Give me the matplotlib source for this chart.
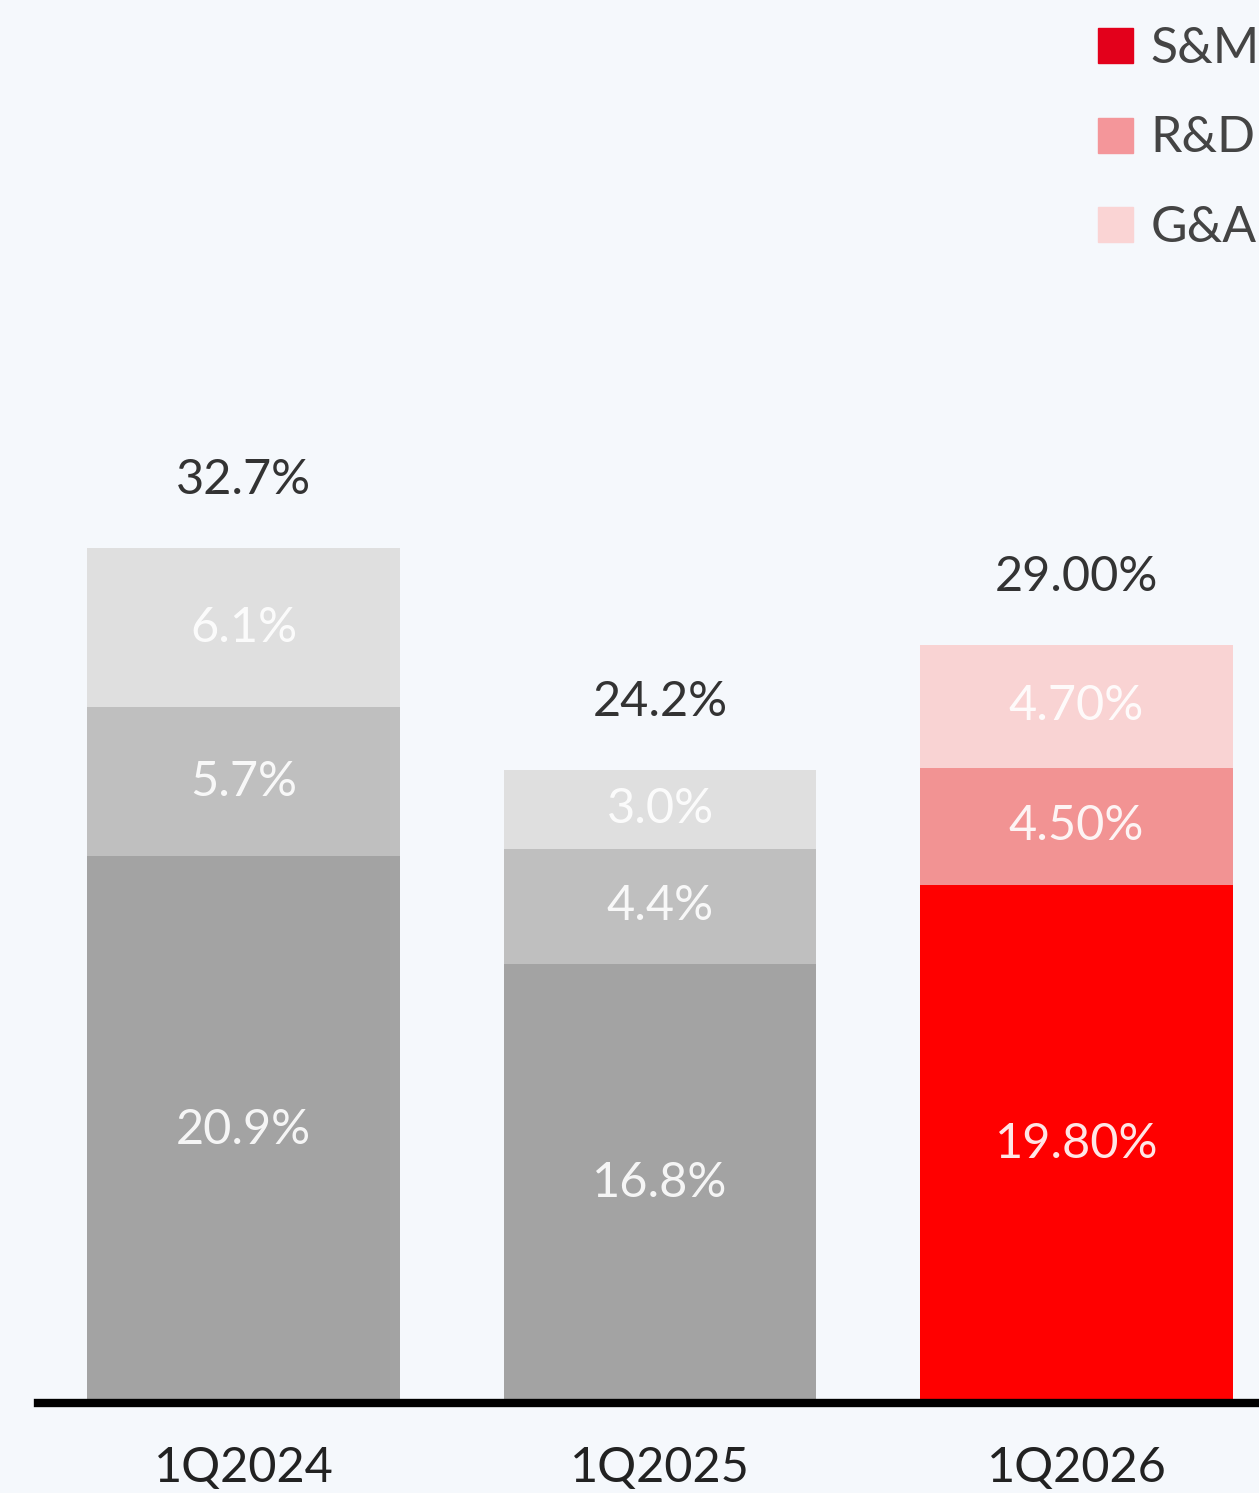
import matplotlib.pyplot as plt
from matplotlib.patches import Patch

# Data
quarters = ['1Q2024', '1Q2025', '1Q2026']
sm = [20.9, 16.8, 19.8]
rd = [5.7, 4.4, 4.5]
ga = [6.1, 3.0, 4.7]
totals = [32.7, 24.2, 29.0]
sm_labels = ['20.9%', '16.8%', '19.80%']
rd_labels = ['5.7%', '4.4%', '4.50%']
ga_labels = ['6.1%', '3.0%', '4.70%']
total_labels = ['32.7%', '24.2%', '29.00%']
legend_names = ['S&M', 'R&D', 'G&A']

# Colours: grey for past quarters, red for the current one
sm_colors = ['#a3a3a3', '#a3a3a3', '#ff0000']
rd_colors = ['#bfbfbf', '#bfbfbf', '#f29393']
ga_colors = ['#dfdfdf', '#dfdfdf', '#f9d3d3']
legend_colors = ['#e3001b', '#f4969a', '#fad4d4']
bg = '#f5f8fc'

plt.rcParams['font.family'] = ['Lato', 'DejaVu Sans']

W, H = 1259, 1493
fig = plt.figure(figsize=(W / 100, H / 100), dpi=100, facecolor=bg)
base_px = 1403
ax = fig.add_axes([38 / W, (H - base_px) / H, 1 - 38 / W, base_px / H])
ax.set_facecolor(bg)

x = list(range(len(quarters)))
width = 0.75
b1 = ax.bar(x, sm, width, color=sm_colors)
b2 = ax.bar(x, rd, width, bottom=sm, color=rd_colors)
bottom3 = [a + b for a, b in zip(sm, rd)]
b3 = ax.bar(x, ga, width, bottom=bottom3, color=ga_colors)

fs = 35
for bars, labels in [(b1, sm_labels), (b2, rd_labels), (b3, ga_labels)]:
    ax.bar_label(bars, labels=labels, label_type='center', color='white',
                 alpha=0.9, fontsize=fs)

for i in x:
    ax.annotate(total_labels[i], (i, totals[i]), xytext=(0, 49),
                textcoords='offset points', ha='center', va='center',
                fontsize=fs, color='#333333')

ax.set_xlim(-(243.5 - 38) / 416.5, (W - 243.5) / 416.5)
ax.set_ylim(0, base_px / 26.15)

for s in ['top', 'right', 'left']:
    ax.spines[s].set_visible(False)
ax.spines['bottom'].set_linewidth(6)
ax.spines['bottom'].set_color('black')
ax.set_yticks([])
ax.set_xticks(x)
ax.set_xticklabels(quarters, fontsize=fs, color='#222222')
ax.tick_params(axis='x', length=0, pad=31)

handles = [Patch(color=c) for c in legend_colors]
fig.legend(handles, legend_names, loc='upper left',
           bbox_to_anchor=(1098 / W, 1 - 26 / H), bbox_transform=fig.transFigure,
           frameon=False, fontsize=fs + 1, handlelength=0.7, handleheight=0.7,
           handletextpad=0.35, labelspacing=0.87, borderpad=0, borderaxespad=0,
           labelcolor='#444444')

fig.savefig('out.png', dpi=100, facecolor=bg)
